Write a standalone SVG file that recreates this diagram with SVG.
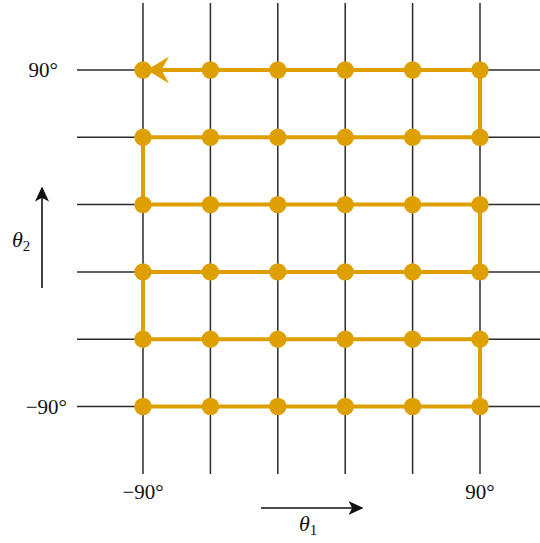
<svg xmlns="http://www.w3.org/2000/svg" width="540" height="543" viewBox="0 0 540 543">
<defs>
<style>
.grid{stroke:#2b2b2b;stroke-width:1.5;fill:none}
.path{stroke:#DDA000;stroke-width:4;fill:none;stroke-linejoin:miter}
.dot{fill:#DDA000}
.lbl{font-family:"Liberation Serif","DejaVu Serif",serif;font-size:21px;fill:#111}
.math{font-family:"Liberation Serif","DejaVu Serif",serif;font-style:italic;font-size:22px;fill:#111}
.sub{font-family:"Liberation Serif","DejaVu Serif",serif;font-size:15px;fill:#111}
.axis{stroke:#111;stroke-width:1.6;fill:none}
</style>
<marker id="ah" viewBox="0 0 10 10" refX="9" refY="5" markerWidth="15" markerHeight="14" markerUnits="userSpaceOnUse" orient="auto" preserveAspectRatio="none">
<path d="M0,0 L10,5 L0,10 L2.5,5 Z" fill="#111"/>
</marker>
</defs>
<rect width="540" height="543" fill="#fff"/>
<g id="grid">
<g class="grid">
<line x1="143" y1="3" x2="143" y2="474"/>
<line x1="210.4" y1="3" x2="210.4" y2="474"/>
<line x1="277.8" y1="3" x2="277.8" y2="474"/>
<line x1="345.2" y1="3" x2="345.2" y2="474"/>
<line x1="412.6" y1="3" x2="412.6" y2="474"/>
<line x1="480" y1="3" x2="480" y2="474"/>
<line x1="77" y1="70" x2="540" y2="70"/>
<line x1="77" y1="137.3" x2="540" y2="137.3"/>
<line x1="77" y1="204.6" x2="540" y2="204.6"/>
<line x1="77" y1="271.9" x2="540" y2="271.9"/>
<line x1="77" y1="339.2" x2="540" y2="339.2"/>
<line x1="77" y1="406.5" x2="540" y2="406.5"/>
</g>
</g>
<g id="connectors">
<path class="path" d="M143,406.5 H480 V339.2 H143 V271.9 H480 V204.6 H143 V137.3 H480 V70 H150"/>
<polygon points="147,70 169,56.5 161.5,70 169,83.5" fill="#DDA000"/>
</g>
<g id="dots" class="dot">
<circle cx="143" cy="70" r="8.7"/><circle cx="210.4" cy="70" r="8.7"/><circle cx="277.8" cy="70" r="8.7"/><circle cx="345.2" cy="70" r="8.7"/><circle cx="412.6" cy="70" r="8.7"/><circle cx="480" cy="70" r="8.7"/>
<circle cx="143" cy="137.3" r="8.7"/><circle cx="210.4" cy="137.3" r="8.7"/><circle cx="277.8" cy="137.3" r="8.7"/><circle cx="345.2" cy="137.3" r="8.7"/><circle cx="412.6" cy="137.3" r="8.7"/><circle cx="480" cy="137.3" r="8.7"/>
<circle cx="143" cy="204.6" r="8.7"/><circle cx="210.4" cy="204.6" r="8.7"/><circle cx="277.8" cy="204.6" r="8.7"/><circle cx="345.2" cy="204.6" r="8.7"/><circle cx="412.6" cy="204.6" r="8.7"/><circle cx="480" cy="204.6" r="8.7"/>
<circle cx="143" cy="271.9" r="8.7"/><circle cx="210.4" cy="271.9" r="8.7"/><circle cx="277.8" cy="271.9" r="8.7"/><circle cx="345.2" cy="271.9" r="8.7"/><circle cx="412.6" cy="271.9" r="8.7"/><circle cx="480" cy="271.9" r="8.7"/>
<circle cx="143" cy="339.2" r="8.7"/><circle cx="210.4" cy="339.2" r="8.7"/><circle cx="277.8" cy="339.2" r="8.7"/><circle cx="345.2" cy="339.2" r="8.7"/><circle cx="412.6" cy="339.2" r="8.7"/><circle cx="480" cy="339.2" r="8.7"/>
<circle cx="143" cy="406.5" r="8.7"/><circle cx="210.4" cy="406.5" r="8.7"/><circle cx="277.8" cy="406.5" r="8.7"/><circle cx="345.2" cy="406.5" r="8.7"/><circle cx="412.6" cy="406.5" r="8.7"/><circle cx="480" cy="406.5" r="8.7"/>
</g>
<g id="labels">
<text class="lbl" x="58" y="77" text-anchor="end">90°</text>
<text class="lbl" x="67" y="414" text-anchor="end">−90°</text>
<text class="lbl" x="143" y="499" text-anchor="middle">−90°</text>
<text class="lbl" x="480" y="499" text-anchor="middle">90°</text>
</g>
<g id="axis-theta1">
<line class="axis" x1="261" y1="508" x2="362" y2="508" marker-end="url(#ah)"/>
<text x="299" y="531"><tspan class="math">θ</tspan><tspan class="sub" dy="4">1</tspan></text>
</g>
<g id="axis-theta2">
<line class="axis" x1="42" y1="288" x2="42" y2="188" marker-end="url(#ah)"/>
<text x="12" y="247"><tspan class="math">θ</tspan><tspan class="sub" dy="4">2</tspan></text>
</g>
</svg>
